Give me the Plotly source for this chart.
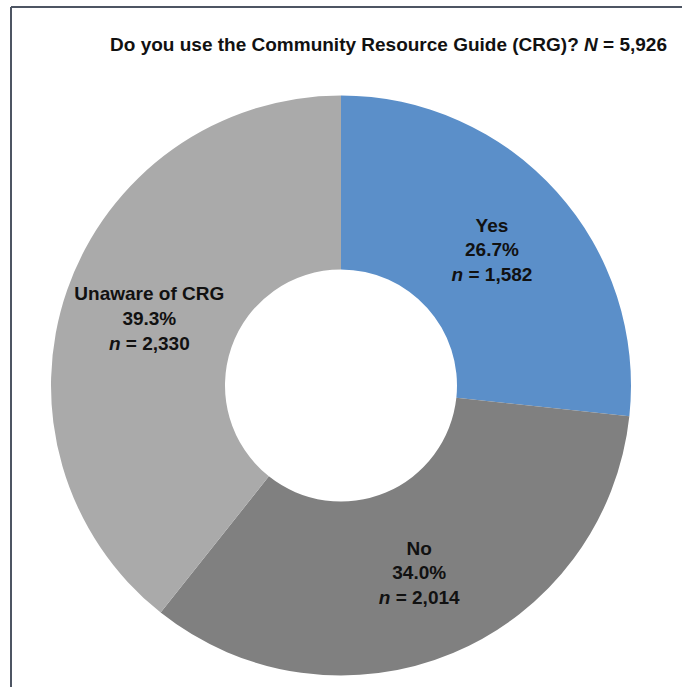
import plotly.graph_objects as go

categories = ["Yes", "No", "Unaware of CRG"]
counts = [1582, 2014, 2330]
colors = ["#5B8FC9", "#808080", "#AAAAAA"]
total_label = "5,926"
title_text = "Do you use the Community Resource Guide (CRG)? <i>N</i> = " + total_label

W, H = 682, 687
fig = go.Figure()
fig.add_trace(go.Pie(
    labels=categories,
    values=counts,
    marker=dict(colors=colors, line=dict(width=0)),
    hole=0.4,
    sort=False,
    direction="clockwise",
    rotation=0,
    customdata=[f"{c:,}" for c in counts],
    texttemplate="<b>%{label}<br>%{percent:.1%}<br><i>n</i> = %{customdata}</b>",
    textposition="inside",
    insidetextorientation="horizontal",
    textfont=dict(family="Liberation Sans, Arial", size=19, color="#111111"),
    showlegend=False,
    hoverinfo="none",
    domain=dict(x=[51 / W, 631 / W], y=[1 - 676 / H, 1 - 95 / H]),
))

fig.update_layout(
    width=W, height=H,
    margin=dict(l=0, r=0, t=0, b=0),
    paper_bgcolor="white",
    title=dict(text="<b>" + title_text + "</b>", x=667 / W, xanchor="right",
               y=1 - 44 / H, yanchor="middle",
               font=dict(family="Liberation Sans, Arial", size=19, color="#111111")),
    uniformtext=dict(minsize=19, mode="show"),
    shapes=[
        dict(type="line", xref="paper", yref="paper", x0=11 / W, x1=1, y0=1 - 7 / H, y1=1 - 7 / H,
             line=dict(color="#4d5563", width=2)),
        dict(type="line", xref="paper", yref="paper", x0=11 / W, x1=11 / W, y0=0, y1=1 - 7 / H,
             line=dict(color="#4d5563", width=2)),
    ],
)

fig.write_html("out.html")
